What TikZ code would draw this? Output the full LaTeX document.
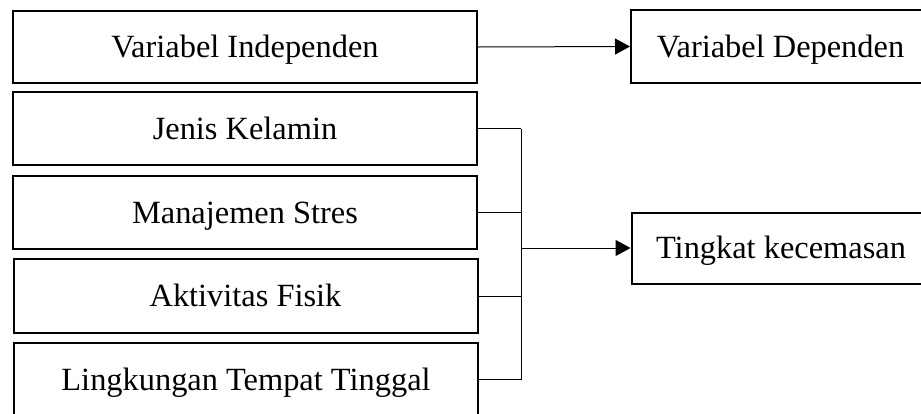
\documentclass[tikz,border=0pt]{standalone}
\usepackage{fontspec}
\setmainfont{Liberation Serif}
\usetikzlibrary{arrows.meta}
\begin{document}
\begin{tikzpicture}[x=0.5pt,y=-0.5pt,
  box/.style={draw, line width=1pt, minimum width=232pt, inner sep=0pt,
    text height=10.6pt, text depth=0pt, font=\fontsize{16.2}{19}\selectfont},
  rbox/.style={box, minimum width=149.5pt},
  conn/.style={line width=0.5pt},
  arr/.style={conn, -{Triangle[length=7.5pt,width=8pt]}}]
\useasboundingbox (0,0) rectangle (921,413);
\begin{scope}
\clip (0,0) rectangle (921,413);
\node[box, minimum height=36pt] (b1) at (245,47) {Variabel Independen};
\node[box, minimum height=36.5pt] (b2) at (245,128.5) {Jenis Kelamin};
\node[box, minimum height=36.5pt] (b3) at (245,212.5) {Manajemen Stres};
\node[box, minimum height=37pt] (b4) at (245.5,296) {Aktivitas Fisik};
\node[box, minimum height=36.5pt] (b5) at (246,379.5) {Lingkungan Tempat Tinggal};
\node[rbox, minimum height=36.5pt] (vd) at (780.5,46.5) {Variabel Dependen};
\node[rbox, minimum height=35.5pt] (tk) at (781,248) {Tingkat kecemasan};
\end{scope}
\coordinate (bt) at (521,128.5);
\coordinate (bb) at (521,379.5);
\draw[arr] (b1.east) -- (vd.west);
\draw[conn] (b2.east) -- (b2.east -| bt);
\draw[conn] (b3.east) -- (b3.east -| bt);
\draw[conn] (b4.east) -- (b4.east -| bt);
\draw[conn] (b5.east) -- (b5.east -| bt);
\draw[conn] (bt) -- (bb);
\draw[arr] (tk.west -| bt) -- (tk.west);
\end{tikzpicture}
\end{document}
